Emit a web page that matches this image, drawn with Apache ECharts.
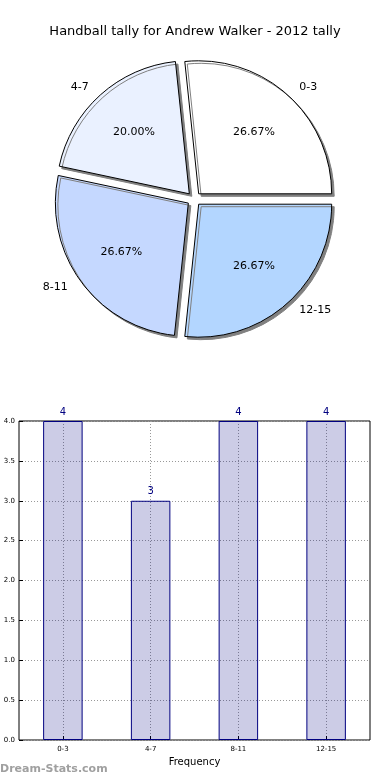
<!DOCTYPE html>
<html><head><meta charset="utf-8">
<script src="https://cdn.jsdelivr.net/npm/echarts@6/dist/echarts.min.js"></script>
<style>html,body{margin:0;padding:0;background:#fff}#c{width:390px;height:780px}</style>
</head><body><div id="c"></div>
<script>
const titleText = 'Handball tally for Andrew Walker - 2012 tally';
const categories = ['0-3', '4-7', '8-11', '12-15'];
const tally = [4, 3, 4, 4];
const sliceColors = ['#ffffff', '#eaf1ff', '#c5d8ff', '#b3d6ff'];
const yTicks = [0, 0.5, 1, 1.5, 2, 2.5, 3, 3.5, 4];

const FONT = 'DejaVu Sans';
const R = 133;
const CENTER = [194, 199];
const OFFSET = 7;
const total = tally.reduce((a, b) => a + b, 0);

const chart = echarts.init(document.getElementById('c'), null, {renderer: 'canvas'});

const mainData = categories.map((c, i) => ({
  name: c, value: tally[i], selected: true,
  itemStyle: {color: sliceColors[i]},
  select: {itemStyle: {color: sliceColors[i]}}
}));
const pctData = categories.map((c, i) => ({
  name: c, value: tally[i], selected: true
}));

chart.setOption({
  animation: false,
  title: {
    text: titleText, left: 'center', top: 20,
    textStyle: {fontFamily: FONT, fontSize: 13, fontWeight: 'normal', color: '#000'}
  },
  graphic: [{
    type: 'text', left: 0, top: 764,
    style: {text: 'Dream-Stats.com', fontFamily: FONT, fontSize: 11, fontWeight: 'bold', fill: '#a0a0a0'}
  }],
  grid: {left: 19, right: 20, top: 421, bottom: 40, show: true, borderColor: '#000', borderWidth: 1},
  xAxis: {
    type: 'category', data: categories,
    name: 'Frequency', nameLocation: 'middle', nameGap: 17,
    nameTextStyle: {fontFamily: FONT, fontSize: 10, color: '#000'},
    axisLine: {show: false},
    axisTick: {show: true, inside: true, alignWithLabel: true, length: 4, lineStyle: {color: '#000'}},
    axisLabel: {fontFamily: FONT, fontSize: 7, color: '#000', margin: 6},
    splitLine: {show: true, alignWithLabel: true, lineStyle: {type: [1, 2], color: '#999', width: 1}}
  },
  yAxis: {
    type: 'value', min: yTicks[0], max: yTicks[yTicks.length - 1], interval: 0.5,
    axisLine: {show: false},
    axisTick: {show: true, inside: true, length: 4, lineStyle: {color: '#000'}},
    axisLabel: {fontFamily: FONT, fontSize: 7, color: '#000', margin: 4, formatter: v => v.toFixed(1)},
    splitLine: {show: true, lineStyle: {type: [1, 2], color: '#999', width: 1}}
  },
  series: [
    {
      type: 'pie', center: CENTER, radius: [0, R],
      startAngle: 0, clockwise: false,
      selectedMode: 'multiple', selectedOffset: OFFSET,
      avoidLabelOverlap: false, silent: true,
      itemStyle: {borderColor: '#000', borderWidth: 1, shadowColor: '#808080', shadowOffsetX: 2.5, shadowOffsetY: 2.5, shadowBlur: 0},
      label: {show: true, position: 'outside', fontFamily: FONT, fontSize: 11, color: '#000', formatter: '{b}'},
      labelLine: {show: false, length: 10, length2: 0},
      emphasis: {disabled: true},
      data: mainData
    },
    {
      type: 'pie', center: CENTER, radius: [R * 0.48, R * 0.72],
      startAngle: 0, clockwise: false,
      selectedMode: 'multiple', selectedOffset: OFFSET,
      avoidLabelOverlap: false, silent: true, z: 5,
      itemStyle: {color: 'rgba(0,0,0,0)', borderWidth: 0},
      select: {itemStyle: {color: 'rgba(0,0,0,0)', borderWidth: 0}},
      label: {show: true, position: 'inside', fontFamily: FONT, fontSize: 11, color: '#000',
        formatter: p => (p.value / total * 100).toFixed(2) + '%'},
      labelLine: {show: false},
      emphasis: {disabled: true},
      data: pctData
    },
    {
      type: 'bar', data: tally, barWidth: '45%',
      itemStyle: {color: 'rgba(0,0,128,0.2)', borderColor: '#000080', borderWidth: 1},
      label: {show: true, position: 'top', distance: 4, fontFamily: FONT, fontSize: 10, color: '#000080'},
      emphasis: {disabled: true}
    }
  ]
});
</script></body></html>
